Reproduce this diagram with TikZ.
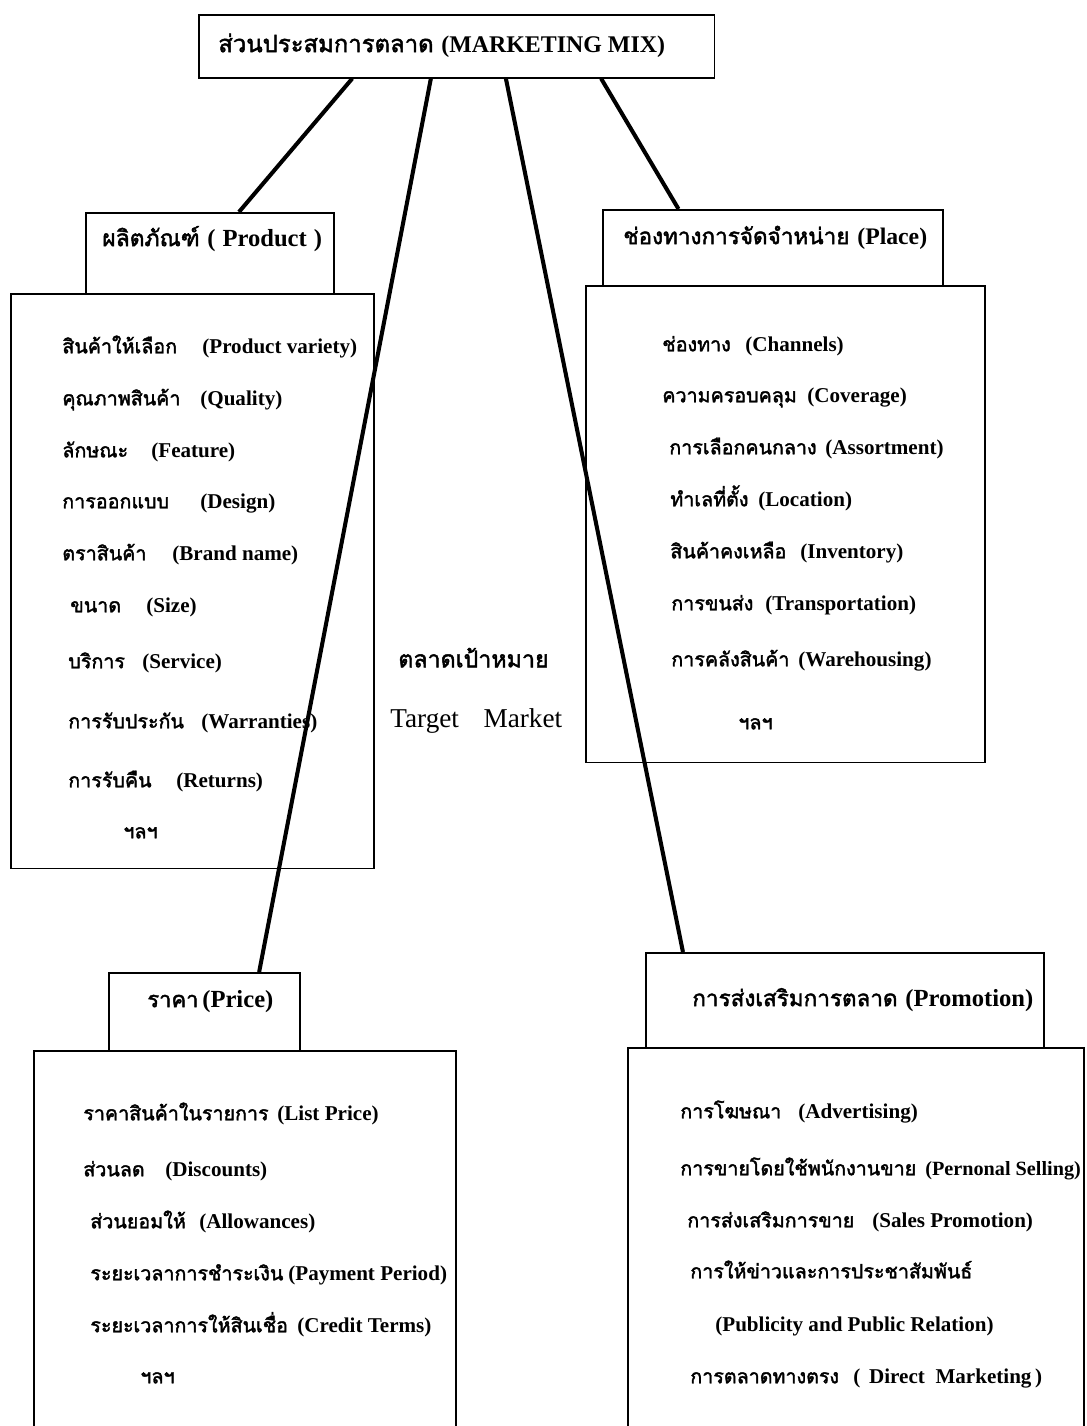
\documentclass[tikz,border=0pt]{standalone}
\usepackage{fontspec}
\setmainfont{Liberation Serif}
\newfontfamily\thaifont[Script=Thai, BoldFont=Loma, BoldFeatures={FakeBold=2}]{Loma}
\usetikzlibrary{calc}

\newlength\pxunit
\setlength\pxunit{0.02cm}
% Thai text, at its own size
\newcommand{\thai}[2][11.2]{{\thaifont\fontsize{#1}{#1}\selectfont #2}}
% Thai word in a box of fixed width, then the English part
\newcommand{\pair}[4][11.2]{\makebox[#2\pxunit][l]{\thai[#1]{#3}}#4}

\tikzset{
  box/.style={draw, line width=0.9pt, fill=white, anchor=north west, inner sep=0pt},
  head/.style={anchor=west, inner sep=0pt, text height=10pt, text depth=3pt,
    font=\bfseries\fontsize{14}{16}\selectfont},
  item/.style={anchor=west, inner sep=0pt, text height=9pt, text depth=3pt,
    font=\bfseries\fontsize{12}{14}\selectfont},
  link/.style={line width=2.3pt},
}

\begin{document}
\begin{tikzpicture}[x=0.02cm, y=-0.02cm]
\useasboundingbox (0,0) rectangle (1086,1426);
\clip (0,0) rectangle (1086,1426);

% main box
\node[box, minimum width=10.32cm, minimum height=1.26cm] (mix) at (198,14) {};
\node[head, font=\bfseries\fontsize{13.6}{15}\selectfont] (mixlbl) at (218,46)
  {\pair[13.6]{223}{ส่วนประสมการตลาด}{(MARKETING MIX)}};

% product
\node[box, minimum width=4.96cm, minimum height=1.62cm] (product) at (85,212) {};
\node[box, minimum width=7.26cm, minimum height=11.5cm] (productlist) at (10,293) {};
\node[head] (productlbl) at (102,240) {\pair[13]{105}{ผลิตภัณฑ์}{(\hspace{4pt}Product\hspace{4pt})}};
\node[item] (prod1) at (62,348) {\pair{140}{สินค้าให้เลือก}{(Product variety)}};
\node[item] (prod2) at (62,400) {\pair{138}{คุณภาพสินค้า}{(Quality)}};
\node[item] (prod3) at (62,452) {\pair{89}{ลักษณะ}{(Feature)}};
\node[item] (prod4) at (62,503) {\pair{138}{การออกแบบ}{(Design)}};
\node[item] (prod5) at (62,555) {\pair{110}{ตราสินค้า}{(Brand name)}};
\node[item] (prod6) at (70,607) {\pair{76}{ขนาด}{(Size)}};
\node[item] (prod7) at (68,663) {\pair{74}{บริการ}{(Service)}};
\node[item] (prod8) at (68,723) {\pair{133}{การรับประกัน}{(Warranties)}};
\node[item] (prod9) at (68,782) {\pair{108}{การรับคืน}{(Returns)}};
\node[item] (prod10) at (123,833) {\thai{ฯลฯ}};

% place
\node[box, minimum width=6.8cm, minimum height=1.52cm] (place) at (602,209) {};
\node[box, minimum width=7.98cm, minimum height=9.54cm] (placelist) at (585,285) {};
\node[head, font=\bfseries\fontsize{13.5}{16}\selectfont] (placelbl) at (623,238)
  {\pair[12.8]{234}{ช่องทางการจัดจำหน่าย}{(Place)}};
\node[item] (place1) at (662,346) {\pair{83}{ช่องทาง}{(Channels)}};
\node[item] (place2) at (662,397) {\pair{145}{ความครอบคลุม}{(Coverage)}};
\node[item] (place3) at (669,449) {\pair{156}{การเลือกคนกลาง}{(Assortment)}};
\node[item] (place4) at (670,501) {\pair{88}{ทำเลที่ตั้ง}{(Location)}};
\node[item] (place5) at (670,553) {\pair{130}{สินค้าคงเหลือ}{(Inventory)}};
\node[item] (place6) at (671,605) {\pair{94}{การขนส่ง}{(Transportation)}};
\node[item] (place7) at (671,661) {\pair{127}{การคลังสินค้า}{(Warehousing)}};
\node[item] (place8) at (738,724) {\thai{ฯลฯ}};

% target market
\node[item] (target) at (398,662) {\thai[13.2]{ตลาดเป้าหมาย}};
\node[item, font=\fontsize{15.5}{17}\selectfont] (targeten) at (390,722) {Target\hspace{14pt}Market};

% price
\node[box, minimum width=3.82cm, minimum height=1.56cm] (price) at (108,972) {};
\node[box, minimum width=8.44cm, minimum height=7.8cm] (pricelist) at (33,1050) {};
\node[head] (pricelbl) at (147,1001) {\pair[12.5]{55}{ราคา}{(Price)}};
\node[item] (price1) at (83,1115) {\pair{194}{ราคาสินค้าในรายการ}{(List Price)}};
\node[item] (price2) at (83,1171) {\pair{82}{ส่วนลด}{(Discounts)}};
\node[item] (price3) at (90,1223) {\pair{109}{ส่วนยอมให้}{(Allowances)}};
\node[item] (price4) at (90,1275) {\pair{198}{ระยะเวลาการชำระเงิน}{(Payment Period)}};
\node[item] (price5) at (90,1327) {\pair{207}{ระยะเวลาการให้สินเชื่อ}{(Credit Terms)}};
\node[item] (price6) at (140,1378) {\thai{ฯลฯ}};

% promotion
\node[box, minimum width=7.96cm, minimum height=1.9cm] (promo) at (645,952) {};
\node[box, minimum width=9.12cm, minimum height=7.86cm] (promolist) at (627,1047) {};
\node[head] (promolbl) at (692,1000) {\pair[12.8]{213}{การส่งเสริมการตลาด}{(Promotion)}};
\node[item] (promo1) at (680,1113) {\pair{118}{การโฆษณา}{(Advertising)}};
\node[item, font=\bfseries\fontsize{11.5}{14}\selectfont] (promo2) at (680,1170)
  {\pair{245}{การขายโดยใช้พนักงานขาย}{(Pernonal Selling)}};
\node[item] (promo3) at (687,1222) {\pair{185}{การส่งเสริมการขาย}{(Sales Promotion)}};
\node[item] (promo4) at (690,1273) {\thai{การให้ข่าวและการประชาสัมพันธ์}};
\node[item] (promo5) at (715,1326) {(Publicity and Public Relation)};
\node[item] (promo6) at (690,1378) {\pair{163}{การตลาดทางตรง}{(\hspace{5pt}Direct\hspace{6pt}Marketing\hspace{2pt})}};

% connectors
\draw[link] ($(mix.south west)!0.298!(mix.south east)$) -- ($(product.north west)!0.617!(product.north east)$);
\draw[link] ($(mix.south west)!0.45!(mix.south east)$) -- ($(price.north west)!0.785!(price.north east)$);
\draw[link] ($(mix.south west)!0.595!(mix.south east)$) -- ($(promo.north west)!0.095!(promo.north east)$);
\draw[link] ($(mix.south west)!0.779!(mix.south east)$) -- ($(place.north west)!0.224!(place.north east)$);
\end{tikzpicture}
\end{document}
